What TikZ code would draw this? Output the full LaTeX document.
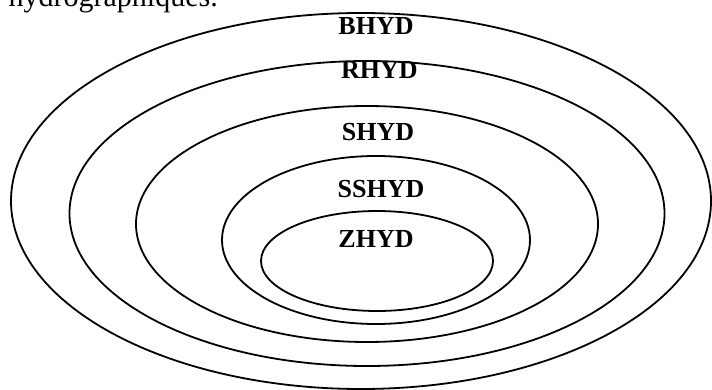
\documentclass[tikz,border=0pt]{standalone}
\usepackage{fontspec}
\setmainfont{Liberation Serif}
\usetikzlibrary{shapes,positioning}

\begin{document}
\begin{tikzpicture}[
    x=1pt, y=-1pt,
    zone/.style={ellipse, draw, line width=1.8pt, inner sep=0pt},
    zonelabel/.style={font=\fontsize{26}{30}\selectfont\bfseries, inner sep=0pt},
    bodytext/.style={font=\fontsize{30}{34}\selectfont, inner sep=0pt}
]

\useasboundingbox (0,0) rectangle (712,390);
\clip (0,0) rectangle (712,390);

% Line of text above the figure, cut at the top
\node[bodytext, anchor=base east] (page-text) at (218,7) {hydrographiques.};

% Nested zones, from the outer one to the inner one
\foreach \name/\cx/\cy/\w/\h in {bhyd/361/201/700/376, rhyd/367/213.5/595/305, shyd/367/224/462/236, sshyd/376/240/308/168, zhyd/377/261/232/100} {
    \node[zone, minimum width=\w pt, minimum height=\h pt] (\name-zone) at (\cx,\cy) {};
}

% Zone names
\node[zonelabel] (bhyd-label) at (376,26.5) {BHYD};
\node[zonelabel] (rhyd-label) at (379.5,70.5) {RHYD};
\node[zonelabel] (shyd-label) at (378,132) {SHYD};
\node[zonelabel] (sshyd-label) at (381,189) {SSHYD};
\node[zonelabel] (zhyd-label) at (376,239) {ZHYD};

\end{tikzpicture}
\end{document}
